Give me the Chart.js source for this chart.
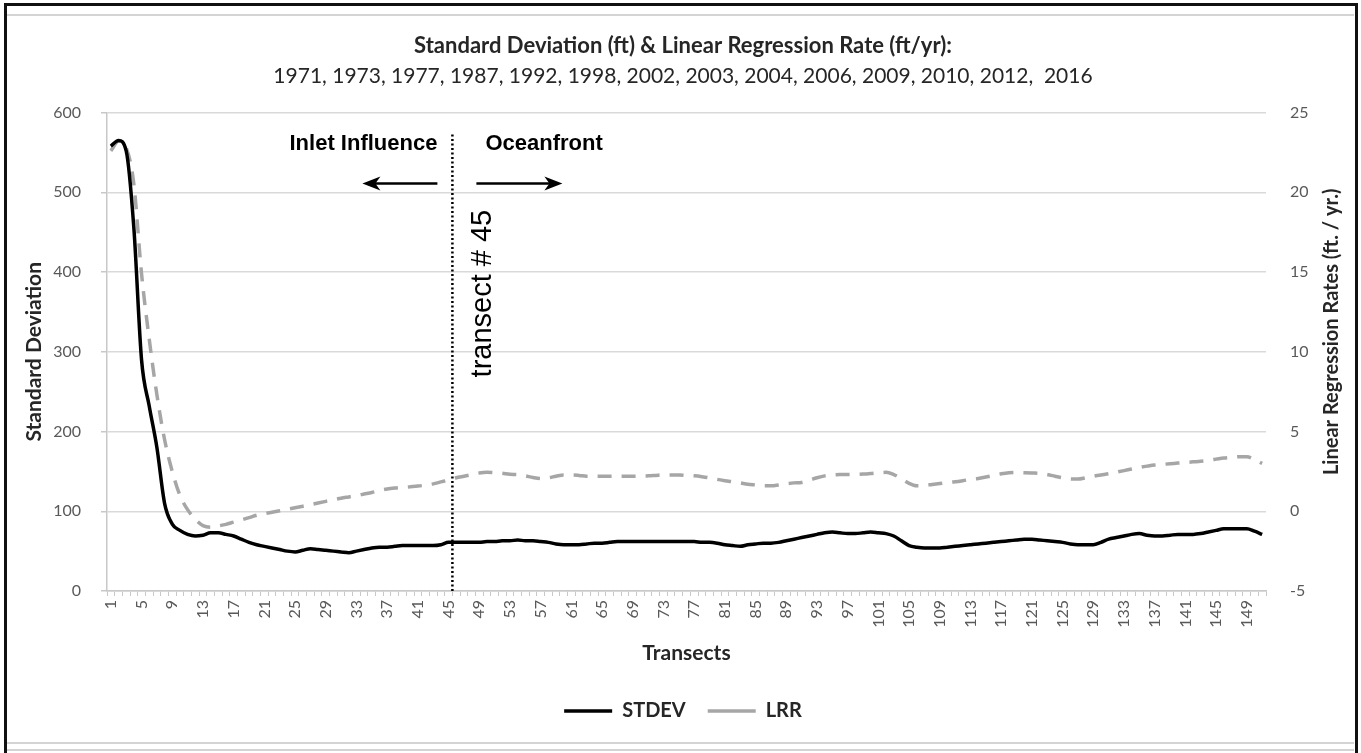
<!DOCTYPE html>
<html lang="en">
<head>
    <meta charset="UTF-8">
    <title>Standard Deviation & Linear Regression Rate</title>
    <script src="https://cdn.jsdelivr.net/npm/chart.js"></script>
    <style>
        html, body { margin: 0; padding: 0; background: #fff; }
        #frame {
            position: absolute; left: 4px; top: 3px; width: 1354px; height: 760px;
            border: 3px solid #111; border-bottom: none; box-sizing: border-box;
        }
        .rule { position: absolute; left: 7px; width: 1347px; height: 2px; background: #d4d4d4; }
        #chartBox { position: absolute; left: 0; top: 0; width: 1361px; height: 753px; }
    </style>
</head>
<body>
    <div id="frame"></div>
    <div class="rule" style="top: 14px;"></div>
    <div class="rule" style="top: 742px;"></div>
    <div class="rule" style="top: 749px;"></div>
    <div id="chartBox">
        <canvas id="devChart" width="1361" height="753"></canvas>
    </div>

    <script>
        // transect numbers along the shoreline
        const transects = [];
        for (let i = 1; i <= 151; i++) transects.push(String(i));

        // standard deviation of shoreline position, ft
        const stdev = [
            558, 565, 552, 455, 290, 232, 180, 110, 84, 76,
            71, 69, 70, 73, 73, 71, 69, 65, 61, 58,
            56, 54, 52, 50, 49, 51, 53, 52, 51, 50,
            49, 48, 50, 52, 54, 55, 55, 56, 57, 57,
            57, 57, 57, 58, 61, 61, 61, 61, 61, 62,
            62, 63, 63, 64, 63, 63, 62, 61, 59, 58,
            58, 58, 59, 60, 60, 61, 62, 62, 62, 62,
            62, 62, 62, 62, 62, 62, 62, 61, 61, 60,
            58, 57, 56, 58, 59, 60, 60, 61, 63, 65,
            67, 69, 71, 73, 74, 73, 72, 72, 73, 74,
            73, 72, 69, 63, 57, 55, 54, 54, 54, 55,
            56, 57, 58, 59, 60, 61, 62, 63, 64, 65,
            65, 64, 63, 62, 61, 59, 58, 58, 58, 61,
            65, 67, 69, 71, 72, 70, 69, 69, 70, 71,
            71, 71, 72, 74, 76, 78, 78, 78, 78, 75,
            71
        ];

        // linear regression rate, ft/yr
        const lrr = [
            22.6, 23.2, 22.8, 20.5, 14.9, 10.8, 7.3, 4.5, 2.5, 1.0,
            0.1, -0.5, -0.9, -1.0, -0.92, -0.82, -0.68, -0.55, -0.4, -0.25,
            -0.15, -0.06, 0.03, 0.12, 0.22, 0.32, 0.42, 0.52, 0.62, 0.72,
            0.82, 0.9, 0.98, 1.08, 1.18, 1.3, 1.4, 1.46, 1.5, 1.54,
            1.58, 1.64, 1.72, 1.84, 1.96, 2.1, 2.2, 2.3, 2.4, 2.44,
            2.42, 2.38, 2.32, 2.3, 2.22, 2.12, 2.06, 2.1, 2.2, 2.28,
            2.28, 2.25, 2.2, 2.2, 2.2, 2.2, 2.2, 2.2, 2.2, 2.2,
            2.22, 2.25, 2.28, 2.28, 2.28, 2.25, 2.22, 2.17, 2.1, 2.0,
            1.92, 1.85, 1.78, 1.7, 1.65, 1.6, 1.6, 1.65, 1.72, 1.78,
            1.81, 1.95, 2.1, 2.22, 2.28, 2.3, 2.3, 2.31, 2.33, 2.37,
            2.42, 2.44, 2.3, 2.05, 1.75, 1.6, 1.62, 1.68, 1.74, 1.8,
            1.85, 1.92, 2.0, 2.06, 2.15, 2.25, 2.35, 2.42, 2.44, 2.42,
            2.4, 2.38, 2.3, 2.2, 2.1, 2.03, 2.02, 2.1, 2.2, 2.28,
            2.35, 2.45, 2.55, 2.65, 2.75, 2.83, 2.9, 2.94, 2.98, 3.02,
            3.06, 3.1, 3.14, 3.2, 3.27, 3.34, 3.38, 3.42, 3.42, 3.25,
            3.0
        ];

        const markerTransect = 45;
        const tickEvery = 4;

        const titleText = 'Standard Deviation (ft) & Linear Regression Rate (ft/yr):';
        const surveyYears = '1971, 1973, 1977, 1987, 1992, 1998, 2002, 2003, 2004, 2006, 2009, 2010, 2012,  2016';

        Chart.defaults.font.family = 'Lato, "Open Sans", sans-serif';
        Chart.defaults.color = '#595959';

        // dotted transect line, region labels and arrows, right axis title
        const annotations = {
            id: 'annotations',
            afterDatasetsDraw(chart) {
                const {ctx, chartArea, scales} = chart;
                const i = transects.indexOf(String(markerTransect));
                const x = (scales.x.getPixelForValue(i) + scales.x.getPixelForValue(i + 1)) / 2;
                ctx.save();

                ctx.strokeStyle = '#000';
                ctx.lineWidth = 2.5;
                ctx.setLineDash([2, 2.5]);
                ctx.beginPath();
                ctx.moveTo(x, chartArea.top + 22);
                ctx.lineTo(x, chartArea.bottom);
                ctx.stroke();
                ctx.setLineDash([]);

                ctx.fillStyle = '#000';
                ctx.font = 'bold 22px "Liberation Sans", Arial, sans-serif';
                ctx.textBaseline = 'middle';
                ctx.textAlign = 'right';
                ctx.fillText('Inlet Influence', x - 15, chartArea.top + 31);
                ctx.textAlign = 'left';
                ctx.fillText('Oceanfront', x + 33, chartArea.top + 31);

                const arrow = (x0, x1, y) => {
                    const dir = Math.sign(x1 - x0);
                    ctx.lineWidth = 2.5;
                    ctx.beginPath();
                    ctx.moveTo(x0, y);
                    ctx.lineTo(x1 - dir * 10, y);
                    ctx.stroke();
                    ctx.beginPath();
                    ctx.moveTo(x1, y);
                    ctx.lineTo(x1 - dir * 18, y - 7);
                    ctx.lineTo(x1 - dir * 13, y);
                    ctx.lineTo(x1 - dir * 18, y + 7);
                    ctx.closePath();
                    ctx.fill();
                };
                arrow(x - 15, x - 90, chartArea.top + 71);
                arrow(x + 24, x + 110, chartArea.top + 71);

                ctx.save();
                ctx.translate(x + 31, chartArea.top + 181);
                ctx.rotate(-Math.PI / 2);
                ctx.font = '29px "Liberation Sans", Arial, sans-serif';
                ctx.textAlign = 'center';
                ctx.fillText('transect # 45', 0, 0);
                ctx.restore();

                ctx.save();
                ctx.translate(1332, (chartArea.top + chartArea.bottom) / 2 - 20);
                ctx.rotate(-Math.PI / 2);
                ctx.font = 'bold 20px Lato, sans-serif';
                ctx.fillStyle = '#262626';
                ctx.textAlign = 'center';
                ctx.fillText('Linear Regression Rates (ft. / yr.)', 0, 0);
                ctx.restore();

                ctx.restore();
            }
        };

        new Chart(document.getElementById('devChart'), {
            type: 'line',
            data: {
                labels: transects,
                datasets: [
                    {
                        label: 'STDEV',
                        data: stdev,
                        yAxisID: 'y',
                        borderColor: '#000',
                        borderWidth: 3.5,
                        pointRadius: 0,
                        tension: 0.35,
                        cubicInterpolationMode: 'monotone'
                    },
                    {
                        label: 'LRR',
                        data: lrr,
                        yAxisID: 'y1',
                        borderColor: '#a6a6a6',
                        borderWidth: 3.5,
                        borderDash: [14, 10],
                        pointRadius: 0,
                        tension: 0.35,
                        cubicInterpolationMode: 'monotone'
                    }
                ]
            },
            options: {
                responsive: false,
                animation: false,
                layout: { padding: { top: 33, left: 15, right: 10, bottom: 22 } },
                plugins: {
                    title: {
                        display: true,
                        text: titleText,
                        color: '#262626',
                        font: { size: 22, weight: 'bold' },
                        padding: { top: 0, bottom: 2 }
                    },
                    subtitle: {
                        display: true,
                        text: surveyYears,
                        color: '#262626',
                        font: { size: 21 },
                        padding: { top: 2, bottom: 24 }
                    },
                    legend: {
                        position: 'bottom',
                        labels: {
                            usePointStyle: true,
                            pointStyle: 'line',
                            pointStyleWidth: 48,
                            padding: 22,
                            color: '#262626',
                            font: { size: 20, weight: 'bold' }
                        }
                    },
                    tooltip: { enabled: false }
                },
                scales: {
                    x: {
                        offset: true,
                        grid: {
                            offset: true,
                            drawOnChartArea: false,
                            tickLength: 5,
                            color: '#c8c8c8'
                        },
                        border: { color: '#c8c8c8', width: 1.5 },
                        ticks: {
                            autoSkip: false,
                            maxRotation: 90,
                            minRotation: 90,
                            padding: 4,
                            font: { size: 16 },
                            callback: (v, i) => (i % tickEvery === 0 ? transects[i] : '')
                        },
                        title: {
                            display: true,
                            text: 'Transects',
                            color: '#262626',
                            font: { size: 21, weight: 'bold' },
                            padding: { top: 0, bottom: 13 }
                        },
                        afterFit: s => { s.height = 88; }
                    },
                    y: {
                        position: 'left',
                        min: 0,
                        max: 600,
                        ticks: { stepSize: 100, padding: 20, font: { size: 16 } },
                        grid: { color: '#d9d9d9', lineWidth: 1.5, tickLength: 6, tickColor: '#c8c8c8' },
                        border: { color: '#c8c8c8', width: 1.5 },
                        title: {
                            display: true,
                            text: 'Standard Deviation',
                            color: '#262626',
                            font: { size: 21, weight: 'bold' },
                            padding: { top: 7, bottom: 0 }
                        },
                        afterFit: s => { s.width = 92; }
                    },
                    y1: {
                        position: 'right',
                        min: -5,
                        max: 25,
                        ticks: { stepSize: 5, padding: 16, font: { size: 16 } },
                        grid: { drawOnChartArea: false, display: false },
                        border: { display: false },
                        afterFit: s => { s.width = 85; }
                    }
                }
            },
            plugins: [annotations]
        });
    </script>
</body>
</html>
